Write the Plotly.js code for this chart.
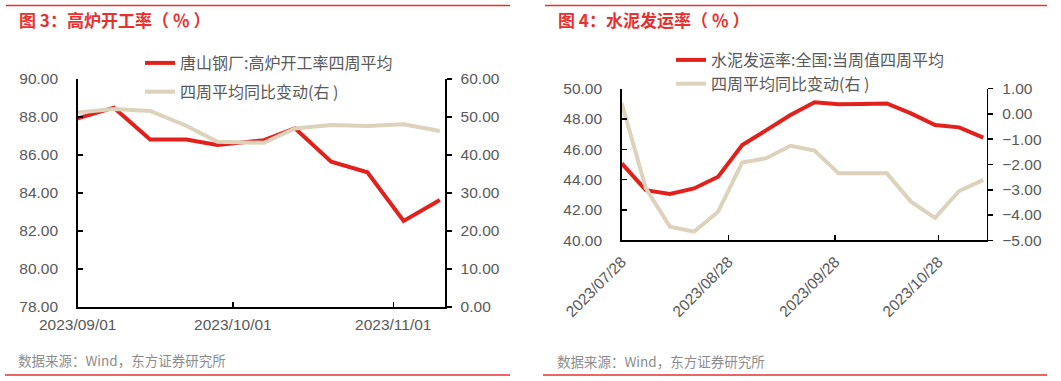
<!DOCTYPE html>
<html>
<head>
<meta charset="utf-8">
<script src="https://cdn.plot.ly/plotly-3.0.1.min.js"></script>
<style>
html,body{margin:0;padding:0;background:#fff;}
#chart{width:1061px;height:381px;}
</style>
</head>
<body>
<div id="chart"></div>
<script>
// ---- Figure 3: blast furnace utilisation (Tangshan) ----
const bfDates = ['2023-09-01','2023-09-08','2023-09-15','2023-09-22','2023-09-28','2023-10-07','2023-10-13','2023-10-20','2023-10-27','2023-11-03','2023-11-10'];
const bfRate4w = [87.93, 88.49, 86.82, 86.82, 86.53, 86.78, 87.40, 85.65, 85.09, 82.53, 83.63];
const bfYoY4w = [51.2, 52.1, 51.6, 47.7, 43.5, 43.2, 47.0, 47.9, 47.6, 48.1, 46.3];
const bfTickVals = ['2023-09-01','2023-10-01','2023-11-01'];
const bfTickText = ['2023/09/01','2023/10/01','2023/11/01'];

// ---- Figure 4: cement shipment rate ----
const cemDates = ['2023-07-28','2023-08-04','2023-08-11','2023-08-18','2023-08-25','2023-09-01','2023-09-08','2023-09-15','2023-09-22','2023-09-29','2023-10-06','2023-10-13','2023-10-20','2023-10-27','2023-11-03','2023-11-10'];
const cemRate4w = [45.07, 43.31, 43.05, 43.42, 44.19, 46.28, 47.27, 48.26, 49.10, 48.97, 48.99, 49.03, 48.37, 47.60, 47.45, 46.77];
const cemYoY4w = [0.43, -2.94, -4.46, -4.66, -3.87, -1.92, -1.75, -1.26, -1.45, -2.35, -2.35, -2.35, -3.47, -4.11, -3.05, -2.61];
const cemTickVals = ['2023-07-28','2023-08-28','2023-09-28','2023-10-28'];
const cemTickText = ['2023/07/28','2023/08/28','2023/09/28','2023/10/28'];

const RED = '#E3211C';
const BEIGE = '#DDD3BC';
const TITLE_RED = '#E8312F';
const GRAY = '#595959';
const FONT = 'Liberation Sans, Arial, Noto Sans CJK SC, sans-serif';
const CJK = 'Noto Sans CJK SC, Liberation Sans, sans-serif';

const W = 1061, H = 381;
const px = v => v / W;
const py = v => (H - v) / H;

const traces = [
  {x: bfDates, y: bfRate4w, name: '唐山钢厂:高炉开工率四周平均', type: 'scatter', mode: 'lines',
   line: {color: RED, width: 4}, xaxis: 'x', yaxis: 'y', legend: 'legend', legendgroup: 'a'},
  {x: bfDates, y: bfYoY4w, name: '四周平均同比变动(右 )', type: 'scatter', mode: 'lines',
   line: {color: BEIGE, width: 4}, xaxis: 'x', yaxis: 'y2', legend: 'legend', legendgroup: 'b'},
  {x: cemDates, y: cemRate4w, name: '水泥发运率:全国:当周值四周平均', type: 'scatter', mode: 'lines',
   line: {color: RED, width: 4}, xaxis: 'x2', yaxis: 'y3', legend: 'legend2', legendgroup: 'c'},
  {x: cemDates, y: cemYoY4w, name: '四周平均同比变动(右 )', type: 'scatter', mode: 'lines',
   line: {color: BEIGE, width: 4}, xaxis: 'x2', yaxis: 'y4', legend: 'legend2', legendgroup: 'd'}
];

const axCommon = {
  showline: true, linecolor: '#000', linewidth: 1.5, showgrid: false, zeroline: false,
  tickcolor: '#000', tickwidth: 1.5, ticklen: 5,
  tickfont: {family: FONT, size: 15.5, color: GRAY}, fixedrange: true
};

const layout = {
  width: W, height: H,
  margin: {l: 0, r: 0, t: 0, b: 0},
  paper_bgcolor: '#fff', plot_bgcolor: 'rgba(0,0,0,0)',
  font: {family: FONT, color: GRAY},
  xaxis: Object.assign({}, axCommon, {
    domain: [px(77.7), px(445)], anchor: 'y', type: 'date',
    range: ['2023-09-01', '2023-11-11'], tickmode: 'array', tickvals: bfTickVals, ticktext: bfTickText,
    ticks: 'inside', tickangle: 0, ticklabelstandoff: 3
  }),
  yaxis: Object.assign({}, axCommon, {
    domain: [py(307), py(79)], anchor: 'x', range: [78, 90], dtick: 2, tick0: 78,
    tickformat: '.2f', ticks: 'inside', ticklabelstandoff: 15
  }),
  yaxis2: Object.assign({}, axCommon, {
    overlaying: 'y', side: 'right', anchor: 'x', range: [0, 60], dtick: 10, tick0: 0,
    tickformat: '.2f', ticks: 'outside', ticklabelstandoff: 6
  }),
  xaxis2: Object.assign({}, axCommon, {
    domain: [px(621.7), px(986.7)], anchor: 'y3', type: 'date',
    range: ['2023-07-28', '2023-11-11'], tickmode: 'array', tickvals: cemTickVals, ticktext: cemTickText,
    ticks: 'inside', tickangle: -45, ticklabelstandoff: 5
  }),
  yaxis3: Object.assign({}, axCommon, {
    domain: [py(240.3), py(88.7)], anchor: 'x2', range: [40, 50], dtick: 2, tick0: 40,
    tickformat: '.2f', ticks: 'inside', ticklabelstandoff: 15
  }),
  yaxis4: Object.assign({}, axCommon, {
    overlaying: 'y3', side: 'right', anchor: 'x2', range: [-5, 1], dtick: 1, tick0: -5,
    tickformat: '.2f', ticks: 'outside', ticklabelstandoff: 6
  }),
  legend: {
    x: px(140), xanchor: 'left', y: py(46), yanchor: 'top', bgcolor: 'rgba(0,0,0,0)',
    font: {family: CJK, size: 16, color: GRAY}, tracegroupgap: 5, traceorder: 'grouped'
  },
  legend2: {
    x: px(671), xanchor: 'left', y: py(43), yanchor: 'top', bgcolor: 'rgba(0,0,0,0)',
    font: {family: CJK, size: 16, color: GRAY}, tracegroupgap: 0, traceorder: 'grouped'
  },
  showlegend: true,
  shapes: [
    {type: 'line', xref: 'paper', yref: 'paper', x0: px(6), x1: px(510), y0: py(5.5), y1: py(5.5), line: {color: TITLE_RED, width: 1.5}},
    {type: 'line', xref: 'paper', yref: 'paper', x0: px(545), x1: px(1047), y0: py(5.5), y1: py(5.5), line: {color: TITLE_RED, width: 1.5}},
    {type: 'line', xref: 'paper', yref: 'paper', x0: px(5), x1: px(510), y0: py(375), y1: py(375), line: {color: TITLE_RED, width: 1.5}},
    {type: 'line', xref: 'paper', yref: 'paper', x0: px(543), x1: px(1047), y0: py(375), y1: py(375), line: {color: TITLE_RED, width: 1.5}}
  ],
  annotations: [
    {text: '<b>图 3：高炉开工率（ ％ ）</b>', xref: 'paper', yref: 'paper', x: px(17), y: py(19.5), xanchor: 'left', yanchor: 'middle',
     showarrow: false, font: {family: CJK, size: 17, color: TITLE_RED}},
    {text: '<b>图 4：水泥发运率（ ％ ）</b>', xref: 'paper', yref: 'paper', x: px(556), y: py(19.5), xanchor: 'left', yanchor: 'middle',
     showarrow: false, font: {family: CJK, size: 17, color: TITLE_RED}},
    {text: '数据来源：Wind，东方证券研究所', xref: 'paper', yref: 'paper', x: px(16), y: py(360), xanchor: 'left', yanchor: 'middle',
     showarrow: false, font: {family: CJK, size: 13.5, color: '#8C8C8C'}},
    {text: '数据来源：Wind，东方证券研究所', xref: 'paper', yref: 'paper', x: px(555), y: py(361), xanchor: 'left', yanchor: 'middle',
     showarrow: false, font: {family: CJK, size: 13.5, color: '#8C8C8C'}}
  ]
};

Plotly.newPlot('chart', traces, layout, {staticPlot: true, displayModeBar: false});
</script>
</body>
</html>
